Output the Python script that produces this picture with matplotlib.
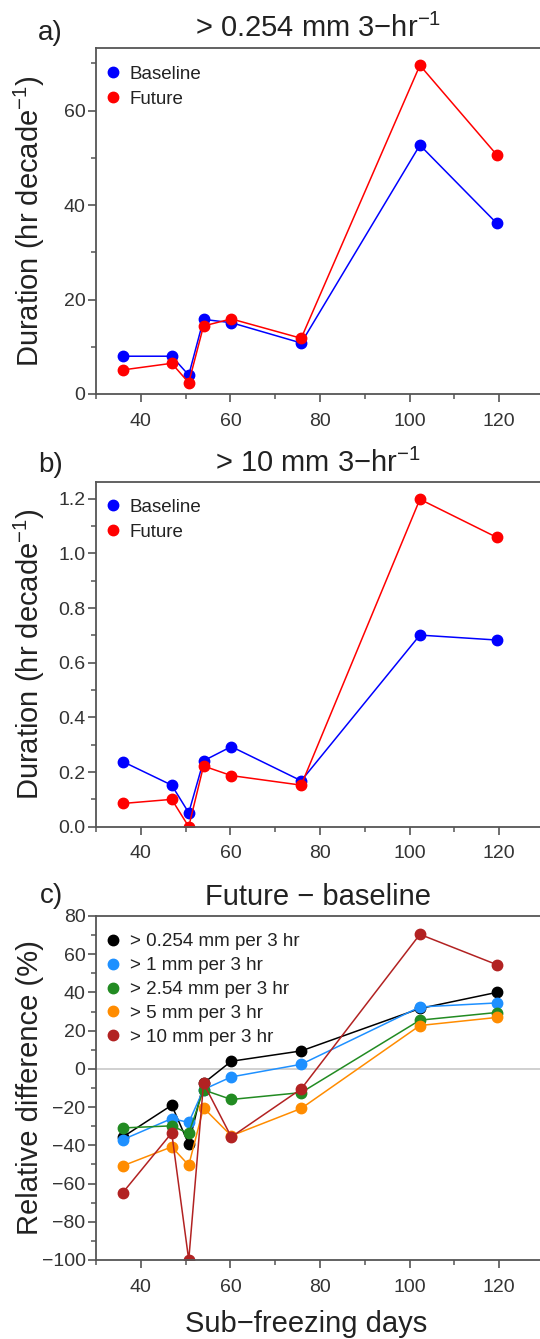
import matplotlib
matplotlib.use("Agg")
import matplotlib.pyplot as plt
from matplotlib.lines import Line2D
from matplotlib.ticker import MultipleLocator, FuncFormatter

plt.rcParams['font.family'] = ['Liberation Sans', 'DejaVu Sans']
plt.rcParams['mathtext.fontset'] = 'custom'
plt.rcParams['mathtext.rm'] = 'Liberation Sans'
plt.rcParams['mathtext.it'] = 'Liberation Sans:italic'
plt.rcParams['mathtext.bf'] = 'Liberation Sans:bold'

# ---- data -------------------------------------------------------------
sub_freezing_days = [36.0, 46.9, 50.7, 54.0, 60.2, 75.8, 102.3, 119.4]

# (a) > 0.254 mm per 3 hr, duration (hr per decade)
light_baseline = [8.0, 8.0, 4.0, 15.8, 15.1, 10.8, 52.7, 36.2]
light_future = [5.1, 6.5, 2.4, 14.4, 15.9, 11.8, 69.6, 50.7]

# (b) > 10 mm per 3 hr, duration (hr per decade)
heavy_baseline = [0.238, 0.152, 0.051, 0.241, 0.293, 0.168, 0.701, 0.683]
heavy_future = [0.085, 0.100, 0.0, 0.222, 0.187, 0.152, 1.198, 1.059]

# (c) relative difference future vs baseline (%)
rel_0254 = [-35.6, -19.0, -39.4, -7.5, 4.0, 9.4, 31.6, 40.0]
rel_1 = [-37.0, -26.0, -28.0, -10.8, -4.2, 2.4, 32.4, 34.5]
rel_254 = [-30.9, -29.8, -33.8, -11.0, -16.0, -12.4, 25.5, 29.5]
rel_5 = [-50.7, -40.8, -50.4, -20.4, -35.0, -20.7, 22.7, 26.9]
rel_10 = [-64.7, -33.5, -100.0, -7.5, -35.6, -10.5, 70.4, 54.6]

threshold_labels = ["> 0.254 mm per 3 hr", "> 1 mm per 3 hr",
                    "> 2.54 mm per 3 hr", "> 5 mm per 3 hr",
                    "> 10 mm per 3 hr"]
threshold_colors = ["black", "#1E90FF", "#228B22", "#FF8C00", "#B22222"]
rel_series = [rel_0254, rel_1, rel_254, rel_5, rel_10]

# ---- layout helpers (pixel based) ------------------------------------
W, H = 540, 1339
fig = plt.figure(figsize=(W / 100, H / 100), dpi=100)

TXT = "#222222"
SPINE = "#555555"


def add_panel(top, bottom, left=96, right=544):
    return fig.add_axes([left / W, 1 - bottom / H, (right - left) / W,
                         (bottom - top) / H])


def ftext(x, y, s, **kw):
    fig.text(x / W, 1 - y / H, s, color=TXT, **kw)


def style(ax, ymajor, yminor, fmt):
    ax.set_xlim(30, 130)
    ax.xaxis.set_major_locator(MultipleLocator(20))
    ax.xaxis.set_minor_locator(MultipleLocator(10))
    ax.yaxis.set_major_locator(MultipleLocator(ymajor))
    ax.yaxis.set_minor_locator(MultipleLocator(yminor))
    ax.yaxis.set_major_formatter(FuncFormatter(fmt))
    for s in ax.spines.values():
        s.set_color(SPINE)
        s.set_linewidth(1.3)
    ax.tick_params(axis='both', which='major', direction='out', length=5.5,
                   width=1.2, color=SPINE, labelsize=14, labelcolor="#333333")
    ax.tick_params(axis='both', which='minor', direction='out', length=3.5,
                   width=1.1, color=SPINE)
    ax.tick_params(axis='x', which='major', pad=8)
    ax.tick_params(axis='y', which='major', pad=2)


def minus_fmt(dec):
    def f(v, pos):
        s = f"{v:.{dec}f}"
        return s.replace("-", "\u2212")
    return f


def add_legend(ax, labels, colors, y0, spacing):
    handles = [Line2D([], [], ls='none', marker='o', ms=7.5, color=c)
               for c in colors]
    ax.legend(handles, labels, loc='upper left', bbox_to_anchor=(0.025, y0),
              frameon=False, handlelength=0.6, handletextpad=0.6,
              labelspacing=spacing, borderpad=0, borderaxespad=0,
              fontsize=13.5, labelcolor=TXT)


LW = 1.1
MS = 7.5

# ---- panel a -----------------------------------------------------------
ax_a = add_panel(48.3, 394)
ax_a.plot(sub_freezing_days, light_baseline, '-o', color='#0000FF', lw=LW, ms=MS)
ax_a.plot(sub_freezing_days, light_future, '-o', color='#FF0000', lw=LW, ms=MS)
ax_a.set_ylim(0, 73.2)
style(ax_a, 20, 10, minus_fmt(0))
add_legend(ax_a, ["Baseline", "Future"], ['#0000FF', '#FF0000'], 0.950, 0.41)

# ---- panel b -----------------------------------------------------------
ax_b = add_panel(482.3, 826.7)
ax_b.plot(sub_freezing_days, heavy_baseline, '-o', color='#0000FF', lw=LW, ms=MS)
ax_b.plot(sub_freezing_days, heavy_future, '-o', color='#FF0000', lw=LW, ms=MS)
ax_b.set_ylim(0, 1.26)
style(ax_b, 0.2, 0.1, minus_fmt(1))
add_legend(ax_b, ["Baseline", "Future"], ['#0000FF', '#FF0000'], 0.952, 0.41)

# ---- panel c -----------------------------------------------------------
ax_c = add_panel(916, 1260)
ax_c.axhline(0, color='#C8C8C8', lw=1.2, zorder=1)
for vals, col in zip(rel_series, threshold_colors):
    ax_c.plot(sub_freezing_days, vals, '-o', color=col, lw=LW, ms=MS, zorder=2)
ax_c.set_ylim(-100, 80)
style(ax_c, 20, 10, minus_fmt(0))
add_legend(ax_c, threshold_labels, threshold_colors, 0.950, 0.36)

# ---- titles and labels -------------------------------------------------
ftext(318, 37, "> 0.254 mm 3\u2212hr$^{-1}$", fontsize=21, ha='center', va='baseline')
ftext(318, 472, "> 10 mm 3\u2212hr$^{-1}$", fontsize=21, ha='center', va='baseline')
ftext(318, 905, "Future \u2212 baseline", fontsize=21, ha='center', va='baseline')

ftext(38, 40, "a)", fontsize=20, ha='left', va='baseline')
ftext(38, 472, "b)", fontsize=20, ha='left', va='baseline')
ftext(40, 903, "c)", fontsize=20, ha='left', va='baseline')

ftext(29, 221, "Duration (hr decade$^{-1}$)", fontsize=21, rotation=90,
      ha='center', va='center')
ftext(29, 654, "Duration (hr decade$^{-1}$)", fontsize=21, rotation=90,
      ha='center', va='center')
ftext(30, 1088, "Relative difference (%)", fontsize=21, rotation=90,
      ha='center', va='center')
ftext(306, 1332, "Sub\u2212freezing days", fontsize=21, ha='center', va='baseline')

fig.savefig("out.png", dpi=100)
